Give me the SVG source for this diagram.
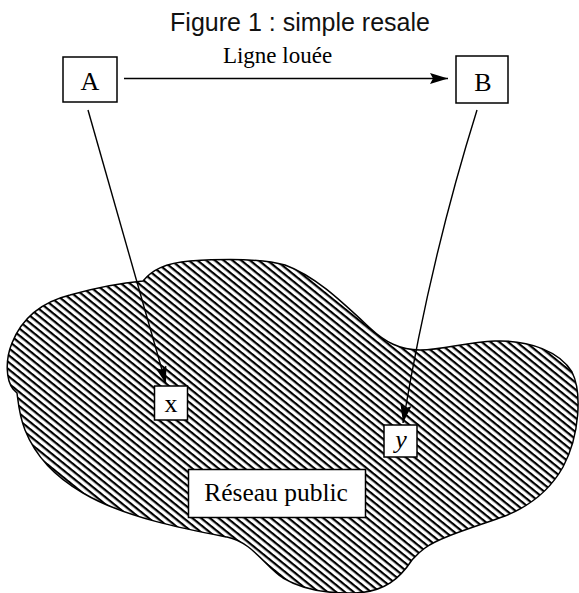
<svg xmlns="http://www.w3.org/2000/svg" width="579" height="593" viewBox="0 0 579 593">
  <style>
    .box { fill: #fff; stroke: #000; stroke-width: 1.5; }
    .serif { font-family: "Liberation Serif", "Times New Roman", serif; fill: #000; text-anchor: middle; }
    .sans { font-family: "Liberation Sans", Arial, sans-serif; fill: #111; text-anchor: middle; }
    .conn { fill: none; stroke: #000; stroke-width: 1.4; }
  </style>
  <defs>
    <pattern id="hatch" patternUnits="userSpaceOnUse" width="10" height="5.5" patternTransform="rotate(39)">
      <rect x="0" y="0" width="10" height="2.2" fill="#000"/>
    </pattern>
    <marker id="arrow" markerUnits="userSpaceOnUse" markerWidth="18" markerHeight="12" refX="18" refY="5.5" orient="auto">
      <path d="M0,0 L18,5.5 L0,11 L3,5.5 Z" fill="#000"/>
    </marker>
  </defs>
  <rect width="579" height="593" fill="#fff"/>

  <text class="sans" x="300" y="31" font-size="25">Figure 1 : simple resale</text>

  <g id="reseau-public">
    <path d="M143 281 C152 270 165 263 190 261 C220 259 260 258 285 265 C315 276 340 300 370 328 C385 342 400 350 420 350 C445 350 465 342 495 341 C530 340 560 352 572 372 C582 392 580 435 563 467 C550 490 530 506 505 516 C475 527 440 537 425 548 C418 553 415 557 412 560 C400 578 385 592 355 593 C325 594 300 588 283 578 C265 566 252 542 227 537 C190 530 125 518 83 493 C55 477 35 455 25 430 C19 415 18 400 17 393 L13 389 C6 380 5 360 12 343 C22 318 42 302 70 295 C95 288 120 283 143 281 Z" fill="url(#hatch)" stroke="#000" stroke-width="1.5"/>
    <rect class="box" x="188.5" y="469.5" width="177" height="48"/>
    <text class="serif" x="276" y="501" font-size="25.5">Réseau public</text>
  </g>

  <g id="node-A">
    <rect class="box" x="63" y="57" width="54" height="45"/>
    <text class="serif" x="90" y="89.5" font-size="26">A</text>
  </g>

  <g id="node-B">
    <rect class="box" x="456" y="56" width="52" height="47"/>
    <text class="serif" x="483" y="90.5" font-size="26">B</text>
  </g>

  <g id="node-x">
    <rect class="box" x="154.5" y="386" width="33" height="34"/>
    <text class="serif" x="171" y="411.5" font-size="26">x</text>
  </g>

  <g id="node-y">
    <rect class="box" x="384" y="425" width="33" height="32"/>
    <text class="serif" x="401" y="448" font-size="26" font-style="italic">y</text>
  </g>

  <g id="connectors">
    <line class="conn" x1="124" y1="78.5" x2="448" y2="78.5" marker-end="url(#arrow)"/>
    <text class="serif" x="277.5" y="63" font-size="23">Ligne louée</text>
    <line class="conn" x1="88" y1="110" x2="166" y2="384" marker-end="url(#arrow)"/>
    <path class="conn" d="M477 110 Q430 260 403 423" marker-end="url(#arrow)"/>
  </g>
</svg>
